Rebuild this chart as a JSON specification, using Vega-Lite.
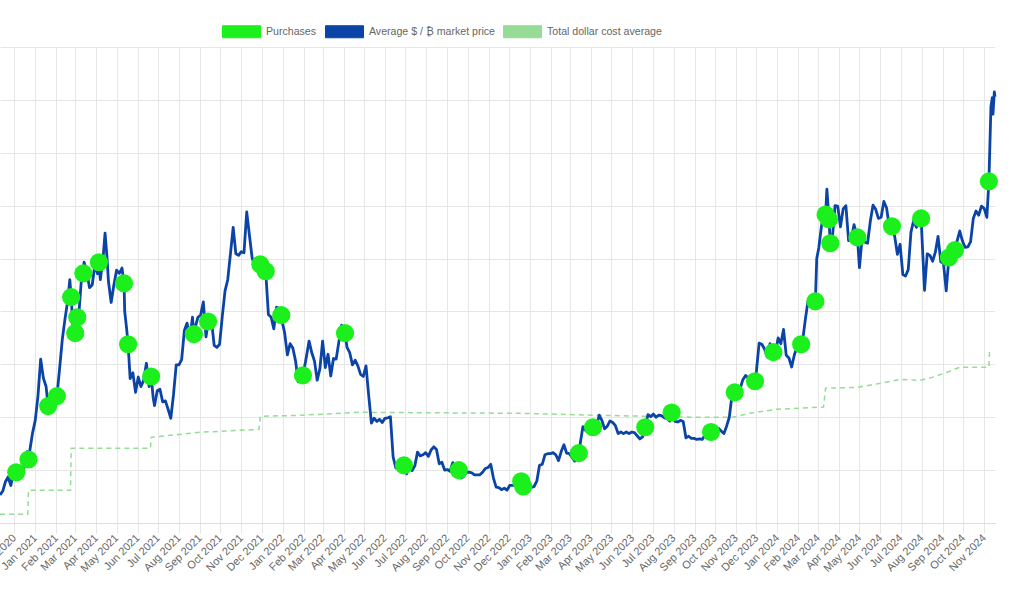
{
  "$schema": "https://vega.github.io/schema/vega-lite/v6.json",
  "width": 995,
  "height": 476,
  "autosize": {"type": "none"},
  "padding": {"left": 0, "top": 47, "right": 33, "bottom": 78},
  "background": "white",
  "config": {
    "view": {"stroke": null},
    "font": "Liberation Sans",
    "axis": {"gridColor": "#e6e6e6", "gridWidth": 1, "tickColor": "#e6e6e6", "domainColor": "#dddddd", "labelColor": "#666666", "labelFont": "Liberation Sans", "labelFontSize": 11, "title": null}
  },
  "datasets": {
    "price": [
      {"d": "2020-11-10", "p": 15300}, {"d": "2020-11-14", "p": 16000}, {"d": "2020-11-18", "p": 17800}, {"d": "2020-11-22", "p": 18700},
      {"d": "2020-11-26", "p": 17100}, {"d": "2020-11-30", "p": 19700}, {"d": "2020-12-04", "p": 19600}, {"d": "2020-12-08", "p": 18300},
      {"d": "2020-12-12", "p": 18800}, {"d": "2020-12-16", "p": 21300}, {"d": "2020-12-20", "p": 23500}, {"d": "2020-12-22", "p": 22000},
      {"d": "2020-12-24", "p": 23700}, {"d": "2020-12-28", "p": 27000}, {"d": "2021-01-01", "p": 29400}, {"d": "2021-01-05", "p": 34000},
      {"d": "2021-01-09", "p": 41000}, {"d": "2021-01-13", "p": 37400}, {"d": "2021-01-17", "p": 35800}, {"d": "2021-01-20", "p": 32100},
      {"d": "2021-01-22", "p": 30800}, {"d": "2021-01-25", "p": 32300}, {"d": "2021-01-29", "p": 34300}, {"d": "2021-02-02", "p": 34000},
      {"d": "2021-02-06", "p": 39300}, {"d": "2021-02-10", "p": 44800}, {"d": "2021-02-14", "p": 48700}, {"d": "2021-02-18", "p": 52100},
      {"d": "2021-02-21", "p": 56000}, {"d": "2021-02-23", "p": 52700}, {"d": "2021-02-26", "p": 46300}, {"d": "2021-03-01", "p": 45900},
      {"d": "2021-03-04", "p": 48900}, {"d": "2021-03-06", "p": 48900}, {"d": "2021-03-10", "p": 55900}, {"d": "2021-03-13", "p": 57200},
      {"d": "2021-03-14", "p": 59300}, {"d": "2021-03-18", "p": 57600}, {"d": "2021-03-22", "p": 54500}, {"d": "2021-03-26", "p": 55000},
      {"d": "2021-03-30", "p": 58800}, {"d": "2021-04-03", "p": 57100}, {"d": "2021-04-05", "p": 59300}, {"d": "2021-04-07", "p": 56000},
      {"d": "2021-04-11", "p": 60000}, {"d": "2021-04-14", "p": 64800}, {"d": "2021-04-17", "p": 60000}, {"d": "2021-04-19", "p": 55700},
      {"d": "2021-04-23", "p": 51700}, {"d": "2021-04-27", "p": 55000}, {"d": "2021-05-01", "p": 57800}, {"d": "2021-05-05", "p": 57200},
      {"d": "2021-05-09", "p": 58200}, {"d": "2021-05-12", "p": 55300}, {"d": "2021-05-13", "p": 50000}, {"d": "2021-05-16", "p": 46500},
      {"d": "2021-05-18", "p": 43800}, {"d": "2021-05-21", "p": 37300}, {"d": "2021-05-25", "p": 38400}, {"d": "2021-05-29", "p": 34700},
      {"d": "2021-06-02", "p": 37600}, {"d": "2021-06-06", "p": 35800}, {"d": "2021-06-10", "p": 37000}, {"d": "2021-06-14", "p": 40200},
      {"d": "2021-06-18", "p": 35800}, {"d": "2021-06-21", "p": 37700}, {"d": "2021-06-24", "p": 33700}, {"d": "2021-06-26", "p": 32200},
      {"d": "2021-06-30", "p": 35000}, {"d": "2021-07-04", "p": 35300}, {"d": "2021-07-08", "p": 32900}, {"d": "2021-07-12", "p": 33100},
      {"d": "2021-07-16", "p": 31500}, {"d": "2021-07-20", "p": 29800}, {"d": "2021-07-24", "p": 34300}, {"d": "2021-07-28", "p": 39900},
      {"d": "2021-08-01", "p": 39900}, {"d": "2021-08-05", "p": 40900}, {"d": "2021-08-09", "p": 46400}, {"d": "2021-08-13", "p": 47800},
      {"d": "2021-08-17", "p": 44700}, {"d": "2021-08-21", "p": 48900}, {"d": "2021-08-23", "p": 45700}, {"d": "2021-08-25", "p": 47000},
      {"d": "2021-08-29", "p": 48900}, {"d": "2021-09-02", "p": 49300}, {"d": "2021-09-06", "p": 51800}, {"d": "2021-09-10", "p": 45200},
      {"d": "2021-09-13", "p": 48100}, {"d": "2021-09-16", "p": 47700}, {"d": "2021-09-18", "p": 48300}, {"d": "2021-09-22", "p": 43600},
      {"d": "2021-09-26", "p": 43200}, {"d": "2021-09-30", "p": 43800}, {"d": "2021-10-04", "p": 49100}, {"d": "2021-10-08", "p": 53900},
      {"d": "2021-10-12", "p": 56000}, {"d": "2021-10-16", "p": 60900}, {"d": "2021-10-20", "p": 65900}, {"d": "2021-10-24", "p": 60900},
      {"d": "2021-10-28", "p": 60600}, {"d": "2021-11-01", "p": 61300}, {"d": "2021-11-05", "p": 61100}, {"d": "2021-11-09", "p": 68800},
      {"d": "2021-11-13", "p": 64400}, {"d": "2021-11-17", "p": 60100}, {"d": "2021-11-21", "p": 58600}, {"d": "2021-11-25", "p": 58900},
      {"d": "2021-11-29", "p": 58900}, {"d": "2021-12-03", "p": 57000}, {"d": "2021-12-07", "p": 57600}, {"d": "2021-12-11", "p": 49400},
      {"d": "2021-12-15", "p": 48900}, {"d": "2021-12-19", "p": 46700}, {"d": "2021-12-23", "p": 50800}, {"d": "2021-12-27", "p": 50600},
      {"d": "2021-12-30", "p": 49300}, {"d": "2022-01-01", "p": 47700}, {"d": "2022-01-04", "p": 45900}, {"d": "2022-01-08", "p": 41800},
      {"d": "2022-01-12", "p": 43900}, {"d": "2022-01-16", "p": 43100}, {"d": "2022-01-20", "p": 40700}, {"d": "2022-01-24", "p": 36700},
      {"d": "2022-01-28", "p": 37700}, {"d": "2022-01-31", "p": 37900}, {"d": "2022-02-05", "p": 41400}, {"d": "2022-02-09", "p": 44400},
      {"d": "2022-02-13", "p": 42200}, {"d": "2022-02-17", "p": 40600}, {"d": "2022-02-21", "p": 37000}, {"d": "2022-02-25", "p": 39200},
      {"d": "2022-03-01", "p": 44400}, {"d": "2022-03-05", "p": 39400}, {"d": "2022-03-09", "p": 41900}, {"d": "2022-03-13", "p": 37800},
      {"d": "2022-03-17", "p": 41100}, {"d": "2022-03-21", "p": 41000}, {"d": "2022-03-25", "p": 44300}, {"d": "2022-03-29", "p": 47400},
      {"d": "2022-04-03", "p": 45900}, {"d": "2022-04-06", "p": 43200}, {"d": "2022-04-10", "p": 42200}, {"d": "2022-04-14", "p": 39900},
      {"d": "2022-04-18", "p": 40800}, {"d": "2022-04-22", "p": 39700}, {"d": "2022-04-26", "p": 38100}, {"d": "2022-04-30", "p": 37700},
      {"d": "2022-05-04", "p": 39700}, {"d": "2022-05-08", "p": 34100}, {"d": "2022-05-12", "p": 28900}, {"d": "2022-05-16", "p": 29800},
      {"d": "2022-05-20", "p": 29200}, {"d": "2022-05-24", "p": 29600}, {"d": "2022-05-28", "p": 29000}, {"d": "2022-06-01", "p": 29800},
      {"d": "2022-06-05", "p": 29900}, {"d": "2022-06-09", "p": 30100}, {"d": "2022-06-13", "p": 22500}, {"d": "2022-06-17", "p": 20400},
      {"d": "2022-06-21", "p": 20700}, {"d": "2022-06-25", "p": 21200}, {"d": "2022-06-29", "p": 20900}, {"d": "2022-07-03", "p": 19300},
      {"d": "2022-07-07", "p": 21600}, {"d": "2022-07-11", "p": 19900}, {"d": "2022-07-15", "p": 20800}, {"d": "2022-07-19", "p": 23400},
      {"d": "2022-07-23", "p": 22700}, {"d": "2022-07-27", "p": 22900}, {"d": "2022-07-31", "p": 23300}, {"d": "2022-08-04", "p": 22600},
      {"d": "2022-08-08", "p": 23800}, {"d": "2022-08-12", "p": 24400}, {"d": "2022-08-16", "p": 23900}, {"d": "2022-08-20", "p": 21200},
      {"d": "2022-08-24", "p": 21500}, {"d": "2022-08-28", "p": 20000}, {"d": "2022-09-01", "p": 20100}, {"d": "2022-09-05", "p": 19800},
      {"d": "2022-09-09", "p": 21400}, {"d": "2022-09-13", "p": 20200}, {"d": "2022-09-18", "p": 20000}, {"d": "2022-09-21", "p": 18500},
      {"d": "2022-09-25", "p": 18800}, {"d": "2022-09-29", "p": 19600}, {"d": "2022-10-03", "p": 19600}, {"d": "2022-10-07", "p": 19500},
      {"d": "2022-10-11", "p": 19100}, {"d": "2022-10-15", "p": 19100}, {"d": "2022-10-19", "p": 19100}, {"d": "2022-10-23", "p": 19600},
      {"d": "2022-10-27", "p": 20300}, {"d": "2022-10-31", "p": 20500}, {"d": "2022-11-04", "p": 21100}, {"d": "2022-11-08", "p": 18500},
      {"d": "2022-11-12", "p": 16800}, {"d": "2022-11-16", "p": 16700}, {"d": "2022-11-20", "p": 16300}, {"d": "2022-11-24", "p": 16600},
      {"d": "2022-11-28", "p": 16200}, {"d": "2022-12-02", "p": 17100}, {"d": "2022-12-06", "p": 17100}, {"d": "2022-12-10", "p": 17100},
      {"d": "2022-12-14", "p": 17800}, {"d": "2022-12-19", "p": 17900}, {"d": "2022-12-22", "p": 16900}, {"d": "2022-12-26", "p": 16900},
      {"d": "2022-12-30", "p": 16600}, {"d": "2023-01-03", "p": 16700}, {"d": "2023-01-07", "p": 16900}, {"d": "2023-01-11", "p": 17900},
      {"d": "2023-01-15", "p": 20900}, {"d": "2023-01-19", "p": 21100}, {"d": "2023-01-23", "p": 22900}, {"d": "2023-01-27", "p": 23100},
      {"d": "2023-01-31", "p": 23100}, {"d": "2023-02-04", "p": 23300}, {"d": "2023-02-08", "p": 22900}, {"d": "2023-02-12", "p": 21800},
      {"d": "2023-02-16", "p": 23500}, {"d": "2023-02-20", "p": 24800}, {"d": "2023-02-24", "p": 23200}, {"d": "2023-02-28", "p": 23100},
      {"d": "2023-03-04", "p": 22400}, {"d": "2023-03-08", "p": 21700}, {"d": "2023-03-12", "p": 22200}, {"d": "2023-03-14", "p": 23200},
      {"d": "2023-03-16", "p": 25000}, {"d": "2023-03-20", "p": 28200}, {"d": "2023-03-24", "p": 27500}, {"d": "2023-03-28", "p": 27100},
      {"d": "2023-04-01", "p": 28500}, {"d": "2023-04-04", "p": 28100}, {"d": "2023-04-09", "p": 28300}, {"d": "2023-04-13", "p": 30400},
      {"d": "2023-04-17", "p": 29400}, {"d": "2023-04-21", "p": 27800}, {"d": "2023-04-25", "p": 28300}, {"d": "2023-04-29", "p": 29300},
      {"d": "2023-05-03", "p": 29000}, {"d": "2023-05-07", "p": 28400}, {"d": "2023-05-11", "p": 26900}, {"d": "2023-05-15", "p": 27200},
      {"d": "2023-05-19", "p": 26900}, {"d": "2023-05-23", "p": 27200}, {"d": "2023-05-27", "p": 26900}, {"d": "2023-05-31", "p": 27200},
      {"d": "2023-06-04", "p": 27100}, {"d": "2023-06-08", "p": 26500}, {"d": "2023-06-12", "p": 25900}, {"d": "2023-06-16", "p": 26300},
      {"d": "2023-06-20", "p": 28100}, {"d": "2023-06-24", "p": 30500}, {"d": "2023-06-28", "p": 30100}, {"d": "2023-07-02", "p": 30600},
      {"d": "2023-07-06", "p": 30000}, {"d": "2023-07-10", "p": 30400}, {"d": "2023-07-14", "p": 30300}, {"d": "2023-07-18", "p": 29900},
      {"d": "2023-07-22", "p": 29800}, {"d": "2023-07-26", "p": 29300}, {"d": "2023-07-29", "p": 30900}, {"d": "2023-08-03", "p": 29200},
      {"d": "2023-08-07", "p": 29100}, {"d": "2023-08-11", "p": 29400}, {"d": "2023-08-15", "p": 29200}, {"d": "2023-08-19", "p": 26100},
      {"d": "2023-08-23", "p": 26400}, {"d": "2023-08-27", "p": 26000}, {"d": "2023-08-31", "p": 26000}, {"d": "2023-09-04", "p": 25800},
      {"d": "2023-09-08", "p": 25900}, {"d": "2023-09-12", "p": 25800}, {"d": "2023-09-16", "p": 26600}, {"d": "2023-09-20", "p": 27200},
      {"d": "2023-09-25", "p": 27200}, {"d": "2023-09-28", "p": 27000}, {"d": "2023-10-02", "p": 27500}, {"d": "2023-10-06", "p": 27900},
      {"d": "2023-10-10", "p": 27400}, {"d": "2023-10-14", "p": 26900}, {"d": "2023-10-18", "p": 28300}, {"d": "2023-10-22", "p": 30000},
      {"d": "2023-10-26", "p": 34200}, {"d": "2023-10-30", "p": 34700}, {"d": "2023-11-03", "p": 34700}, {"d": "2023-11-07", "p": 35400},
      {"d": "2023-11-11", "p": 37100}, {"d": "2023-11-15", "p": 37900}, {"d": "2023-11-19", "p": 37400}, {"d": "2023-11-23", "p": 37300},
      {"d": "2023-11-29", "p": 36800}, {"d": "2023-12-01", "p": 38700}, {"d": "2023-12-05", "p": 44000}, {"d": "2023-12-09", "p": 43800},
      {"d": "2023-12-13", "p": 42900}, {"d": "2023-12-17", "p": 41400}, {"d": "2023-12-21", "p": 43900}, {"d": "2023-12-26", "p": 42300},
      {"d": "2023-12-29", "p": 42100}, {"d": "2024-01-02", "p": 45000}, {"d": "2024-01-06", "p": 43900}, {"d": "2024-01-10", "p": 46600},
      {"d": "2024-01-14", "p": 41700}, {"d": "2024-01-18", "p": 41200}, {"d": "2024-01-22", "p": 39500}, {"d": "2024-01-26", "p": 41800},
      {"d": "2024-01-30", "p": 43300}, {"d": "2024-02-05", "p": 43800}, {"d": "2024-02-07", "p": 44300}, {"d": "2024-02-11", "p": 48300},
      {"d": "2024-02-15", "p": 51900}, {"d": "2024-02-19", "p": 51800}, {"d": "2024-02-23", "p": 50700}, {"d": "2024-02-26", "p": 51900},
      {"d": "2024-02-28", "p": 60000}, {"d": "2024-03-02", "p": 62000}, {"d": "2024-03-06", "p": 66100}, {"d": "2024-03-10", "p": 68900},
      {"d": "2024-03-12", "p": 68300}, {"d": "2024-03-14", "p": 73100}, {"d": "2024-03-17", "p": 67400}, {"d": "2024-03-19", "p": 62900},
      {"d": "2024-03-22", "p": 63800}, {"d": "2024-03-26", "p": 70000}, {"d": "2024-03-30", "p": 69900}, {"d": "2024-04-03", "p": 66000},
      {"d": "2024-04-07", "p": 69400}, {"d": "2024-04-11", "p": 70000}, {"d": "2024-04-15", "p": 63400}, {"d": "2024-04-19", "p": 63800},
      {"d": "2024-04-23", "p": 66400}, {"d": "2024-04-28", "p": 64000}, {"d": "2024-05-01", "p": 58300}, {"d": "2024-05-05", "p": 64000},
      {"d": "2024-05-09", "p": 63100}, {"d": "2024-05-13", "p": 62900}, {"d": "2024-05-17", "p": 67000}, {"d": "2024-05-21", "p": 70100},
      {"d": "2024-05-25", "p": 69300}, {"d": "2024-05-29", "p": 67600}, {"d": "2024-06-02", "p": 67800}, {"d": "2024-06-06", "p": 70800},
      {"d": "2024-06-10", "p": 69600}, {"d": "2024-06-14", "p": 66000}, {"d": "2024-06-18", "p": 66100}, {"d": "2024-06-22", "p": 64200},
      {"d": "2024-06-26", "p": 60800}, {"d": "2024-06-30", "p": 62700}, {"d": "2024-07-04", "p": 57000}, {"d": "2024-07-08", "p": 56700},
      {"d": "2024-07-12", "p": 57900}, {"d": "2024-07-16", "p": 65000}, {"d": "2024-07-20", "p": 67200}, {"d": "2024-07-24", "p": 65900},
      {"d": "2024-07-28", "p": 68300}, {"d": "2024-07-31", "p": 67600}, {"d": "2024-08-05", "p": 54000}, {"d": "2024-08-09", "p": 60900},
      {"d": "2024-08-13", "p": 60600}, {"d": "2024-08-17", "p": 59500}, {"d": "2024-08-21", "p": 61200}, {"d": "2024-08-25", "p": 64200},
      {"d": "2024-08-29", "p": 59400}, {"d": "2024-09-02", "p": 59100}, {"d": "2024-09-06", "p": 53900}, {"d": "2024-09-10", "p": 60200},
      {"d": "2024-09-14", "p": 60000}, {"d": "2024-09-19", "p": 61600}, {"d": "2024-09-22", "p": 63300}, {"d": "2024-09-26", "p": 65200},
      {"d": "2024-09-30", "p": 63300}, {"d": "2024-10-04", "p": 62100}, {"d": "2024-10-08", "p": 62200}, {"d": "2024-10-12", "p": 63200},
      {"d": "2024-10-16", "p": 67600}, {"d": "2024-10-20", "p": 69000}, {"d": "2024-10-24", "p": 68200}, {"d": "2024-10-28", "p": 69900},
      {"d": "2024-11-01", "p": 69500}, {"d": "2024-11-05", "p": 67800}, {"d": "2024-11-08", "p": 74600}, {"d": "2024-11-11", "p": 88700},
      {"d": "2024-11-13", "p": 90400}, {"d": "2024-11-14", "p": 87300}, {"d": "2024-11-16", "p": 91500}, {"d": "2024-11-17", "p": 90600}
    ],
    "buys": [
      {"d": "2020-12-04", "p": 19600}, {"d": "2020-12-22", "p": 22000}, {"d": "2021-01-20", "p": 32100}, {"d": "2021-02-02", "p": 34000},
      {"d": "2021-02-23", "p": 52700}, {"d": "2021-03-01", "p": 45900}, {"d": "2021-03-04", "p": 48900}, {"d": "2021-03-13", "p": 57200},
      {"d": "2021-04-05", "p": 59300}, {"d": "2021-05-12", "p": 55300}, {"d": "2021-05-18", "p": 43800}, {"d": "2021-06-21", "p": 37700},
      {"d": "2021-08-23", "p": 45700}, {"d": "2021-09-13", "p": 48100}, {"d": "2021-11-29", "p": 58900}, {"d": "2021-12-07", "p": 57600},
      {"d": "2021-12-30", "p": 49300}, {"d": "2022-01-31", "p": 37900}, {"d": "2022-04-03", "p": 45900}, {"d": "2022-06-29", "p": 20900},
      {"d": "2022-09-18", "p": 20000}, {"d": "2022-12-19", "p": 17900}, {"d": "2022-12-22", "p": 16900}, {"d": "2023-03-14", "p": 23200},
      {"d": "2023-04-04", "p": 28100}, {"d": "2023-06-20", "p": 28100}, {"d": "2023-07-29", "p": 30900}, {"d": "2023-09-25", "p": 27200},
      {"d": "2023-10-30", "p": 34700}, {"d": "2023-11-29", "p": 36800}, {"d": "2023-12-26", "p": 42300}, {"d": "2024-02-05", "p": 43800},
      {"d": "2024-02-26", "p": 51900}, {"d": "2024-03-12", "p": 68300}, {"d": "2024-03-17", "p": 67400}, {"d": "2024-03-19", "p": 62900},
      {"d": "2024-04-28", "p": 64000}, {"d": "2024-06-18", "p": 66100}, {"d": "2024-07-31", "p": 67600}, {"d": "2024-09-10", "p": 60200},
      {"d": "2024-09-19", "p": 61600}, {"d": "2024-11-08", "p": 74600}
    ],
    "dca": [
      {"d": "2020-11-10", "p": 11640}, {"d": "2020-12-21", "p": 11640}, {"d": "2020-12-22", "p": 16180}, {"d": "2021-02-22", "p": 16180},
      {"d": "2021-02-23", "p": 24120}, {"d": "2021-06-20", "p": 24120}, {"d": "2021-06-21", "p": 26200}, {"d": "2021-09-01", "p": 27150},
      {"d": "2021-11-27", "p": 27700}, {"d": "2021-11-29", "p": 30170}, {"d": "2022-01-26", "p": 30360}, {"d": "2022-04-25", "p": 30930},
      {"d": "2022-12-17", "p": 30740}, {"d": "2023-04-14", "p": 30360}, {"d": "2023-09-09", "p": 29980}, {"d": "2023-10-27", "p": 29980},
      {"d": "2023-11-21", "p": 30740}, {"d": "2023-12-31", "p": 31500}, {"d": "2024-03-09", "p": 31930}, {"d": "2024-03-12", "p": 35470},
      {"d": "2024-04-28", "p": 35660}, {"d": "2024-06-01", "p": 36410}, {"d": "2024-06-30", "p": 37170}, {"d": "2024-07-29", "p": 36980},
      {"d": "2024-08-17", "p": 37550}, {"d": "2024-09-07", "p": 38490}, {"d": "2024-09-26", "p": 39440}, {"d": "2024-11-08", "p": 39440},
      {"d": "2024-11-09", "p": 43030}
    ]
  },
  "layer": [
    {
      "data": {"name": "dca"},
      "mark": {"type": "line", "strokeDash": [5, 4], "strokeWidth": 1.5},
      "encoding": {
        "x": {
          "field": "d", "type": "temporal",
          "scale": {"type": "utc", "domain": [{"year": 2020, "month": 11, "date": 10, "utc": true}, {"year": 2024, "month": 11, "date": 17, "utc": true}]},
          "axis": {"format": "%b %Y", "tickCount": {"interval": "month", "step": 1}, "labelAngle": -45, "labelAlign": "right", "labelBaseline": "middle", "tickSize": 10, "labelPadding": 3, "grid": true, "labelOverlap": false, "labelBound": false, "labelFlush": false}
        },
        "y": {
          "field": "p", "type": "quantitative",
          "scale": {"domain": [10000, 100000], "nice": false, "zero": false},
          "axis": {"labels": false, "ticks": false, "domain": false, "grid": true, "values": [10000, 20000, 30000, 40000, 50000, 60000, 70000, 80000, 90000, 100000]}
        },
        "color": {
          "datum": "Total dollar cost average",
          "scale": {"domain": ["Purchases", "Average $ / ₿ market price", "Total dollar cost average"], "range": ["#1cf01c", "#0b44a6", "#96db96"]},
          "legend": {
            "orient": "none", "legendX": 222, "legendY": -35, "direction": "horizontal", "title": null,
            "symbolType": "M-1,-0.316H1V0.316H-1Z", "symbolSize": 1444, "symbolOpacity": 1,
            "symbolStrokeWidth": 1, "symbolDash": [],
            "labelFont": "Liberation Sans", "labelFontSize": 10.6, "labelColor": "#666666", "labelOffset": 5, "columnPadding": 6,
            "encode": {
              "symbols": {
                "update": {
                  "fill": {"scale": "color", "field": "value"},
                  "opacity": {"value": 1},
                  "stroke": [{"test": "datum.value === 'Total dollar cost average'", "value": "#7cc77c"}, {"scale": "color", "field": "value"}]
                }
              }
            }
          }
        }
      }
    },
    {
      "data": {"name": "price"},
      "mark": {"type": "line", "strokeWidth": 2.8, "strokeJoin": "round"},
      "encoding": {
        "x": {"field": "d", "type": "temporal"},
        "y": {"field": "p", "type": "quantitative"},
        "color": {"datum": "Average $ / ₿ market price"}
      }
    },
    {
      "data": {"name": "buys"},
      "mark": {"type": "point", "filled": true, "size": 330, "opacity": 1},
      "encoding": {
        "x": {"field": "d", "type": "temporal"},
        "y": {"field": "p", "type": "quantitative"},
        "color": {"datum": "Purchases"}
      }
    }
  ]
}
